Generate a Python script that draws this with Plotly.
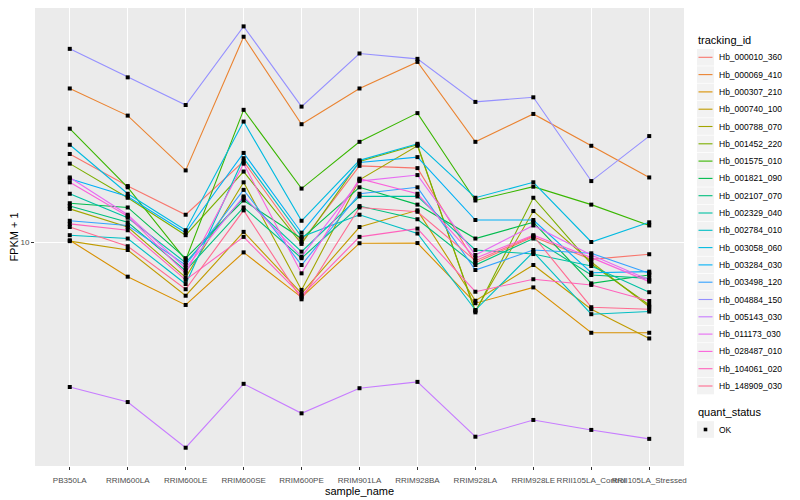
import plotly.graph_objects as go

samples = ["PB350LA", "RRIM600LA", "RRIM600LE", "RRIM600SE", "RRIM600PE", "RRIM901LA",
           "RRIM928BA", "RRIM928LA", "RRIM928LE", "RRII105LA_Control", "RRII105LA_Stressed"]

Hb_000010_360 = [16.6, 13.8, 11.7, 15.9, 10.0, 15.5, 15.3, 8.88, 10.3, 9.05, 9.32]
Hb_000069_410 = [24.2, 20.7, 15.1, 32.6, 19.7, 24.2, 28.2, 17.8, 20.9, 17.4, 14.5]
Hb_000307_210 = [10.1, 8.19, 6.96, 9.42, 7.27, 9.93, 9.94, 7.03, 7.70, 5.93, 5.93]
Hb_000740_100 = [10.05, 9.55, 7.34, 10.6, 7.44, 10.9, 12.0, 7.13, 8.76, 6.79, 5.74]
Hb_000788_070 = [12.1, 10.9, 8.16, 14.1, 7.59, 14.3, 17.4, 6.72, 11.95, 8.91, 6.89]
Hb_001452_220 = [15.7, 12.9, 10.4, 15.0, 9.89, 15.9, 17.5, 6.67, 12.9, 8.81, 6.96]
Hb_001575_010 = [19.2, 13.7, 9.02, 21.4, 13.6, 17.8, 21.0, 12.7, 13.75, 12.4, 11.0]
Hb_001821_090 = [12.5, 12.2, 9.11, 12.7, 10.2, 13.7, 12.4, 10.2, 11.2, 7.88, 8.27]
Hb_002107_070 = [12.3, 11.2, 8.48, 12.2, 9.11, 12.3, 11.4, 8.76, 10.2, 8.27, 8.11]
Hb_002329_040 = [13.2, 11.5, 8.88, 12.9, 9.46, 13.0, 13.0, 9.55, 9.33, 8.71, 7.49]
Hb_002784_010 = [10.4, 10.2, 7.85, 16.2, 10.3, 11.7, 10.5, 6.76, 9.44, 6.60, 6.70]
Hb_003058_060 = [17.5, 13.2, 10.7, 20.0, 11.3, 16.0, 17.6, 12.9, 14.1, 10.0, 11.2]
Hb_003284_030 = [14.4, 13.0, 10.55, 16.7, 10.55, 15.8, 16.3, 11.35, 11.35, 8.38, 8.43]
Hb_003498_120 = [11.3, 11.0, 8.76, 13.5, 8.76, 13.2, 13.7, 8.51, 9.55, 9.37, 8.35]
Hb_004884_150 = [30.4, 25.8, 22.0, 34.6, 21.8, 29.6, 28.7, 22.4, 23.0, 14.2, 18.4]
Hb_005143_030 = [4.34, 3.98, 3.06, 4.42, 3.73, 4.31, 4.47, 3.26, 3.59, 3.39, 3.22]
Hb_011173_030 = [14.5, 11.7, 8.60, 13.0, 9.19, 14.2, 14.7, 9.28, 11.0, 9.28, 8.04]
Hb_028487_010 = [14.1, 11.6, 8.35, 15.7, 8.35, 14.4, 13.2, 9.11, 10.4, 9.14, 7.96]
Hb_104061_020 = [11.1, 10.7, 8.04, 10.3, 7.34, 10.3, 10.8, 7.51, 8.07, 7.81, 7.12]
Hb_148909_030 = [10.9, 9.76, 7.62, 12.0, 7.19, 12.2, 11.9, 8.98, 10.35, 6.87, 6.79]

tracking_ids = ["Hb_000010_360", "Hb_000069_410", "Hb_000307_210", "Hb_000740_100", "Hb_000788_070",
                "Hb_001452_220", "Hb_001575_010", "Hb_001821_090", "Hb_002107_070", "Hb_002329_040",
                "Hb_002784_010", "Hb_003058_060", "Hb_003284_030", "Hb_003498_120", "Hb_004884_150",
                "Hb_005143_030", "Hb_011173_030", "Hb_028487_010", "Hb_104061_020", "Hb_148909_030"]
series = [Hb_000010_360, Hb_000069_410, Hb_000307_210, Hb_000740_100, Hb_000788_070,
          Hb_001452_220, Hb_001575_010, Hb_001821_090, Hb_002107_070, Hb_002329_040,
          Hb_002784_010, Hb_003058_060, Hb_003284_030, Hb_003498_120, Hb_004884_150,
          Hb_005143_030, Hb_011173_030, Hb_028487_010, Hb_104061_020, Hb_148909_030]
quant_status = ["OK"]

colors = ["#F8766D", "#EA8331", "#D89000", "#C09B00", "#A3A500", "#7CAE00", "#39B600", "#00BB4E",
          "#00BF7D", "#00C1A3", "#00BFC4", "#00BAE0", "#00B0F6", "#35A2FF", "#9590FF", "#C77CFF",
          "#E76BF3", "#FA62DB", "#FF62BC", "#FF6C91"]

FONT = "Liberation Sans, Arial, sans-serif"

# page layout (screen pixels; page body has an 8px offset)
OFF = 8
ML, MR, MT, MB = 35 - OFF, 800 - 684 + OFF, 0, 500 - 466 + OFF
PW, PH = 800 - ML - MR, 500 - MT - MB


def px(sx):
    return (sx - OFF - ML) / PW


def py(sy):
    return (500 - MB + OFF - sy) / PH


fig = go.Figure()
for name, vals, col in zip(tracking_ids, series, colors):
    fig.add_trace(go.Scatter(x=samples, y=vals, mode="lines", name=name, showlegend=False,
                             line=dict(color=col, width=1.1)))

all_x, all_y = [], []
for vals in series:
    all_x += samples
    all_y += vals
fig.add_trace(go.Scatter(x=all_x, y=all_y, mode="markers", name=quant_status[0], showlegend=False,
                         marker=dict(symbol="square", size=4, color="black")))

# manual ggplot-style legends
shapes, annots = [], []
annots.append(dict(text="tracking_id", x=px(696), y=py(40), xref="paper", yref="paper",
                   xanchor="left", yanchor="middle", showarrow=False, font=dict(size=11)))
for i, (name, col) in enumerate(zip(tracking_ids, colors)):
    cy = 57.3 + i * 17.3
    shapes.append(dict(type="rect", xref="paper", yref="paper", x0=px(697), x1=px(714),
                       y0=py(cy - 8.3), y1=py(cy + 8.3), fillcolor="#F2F2F2", line=dict(width=0),
                       layer="below"))
    shapes.append(dict(type="line", xref="paper", yref="paper", x0=px(698.5), x1=px(712.5),
                       y0=py(cy), y1=py(cy), line=dict(color=col, width=1.1)))
    annots.append(dict(text=name, x=px(716.5), y=py(cy), xref="paper", yref="paper",
                       xanchor="left", yanchor="middle", showarrow=False, font=dict(size=8.5)))
annots.append(dict(text="quant_status", x=px(696), y=py(412), xref="paper", yref="paper",
                   xanchor="left", yanchor="middle", showarrow=False, font=dict(size=11)))
shapes.append(dict(type="rect", xref="paper", yref="paper", x0=px(697), x1=px(714),
                   y0=py(429.5 - 8.3), y1=py(429.5 + 8.3), fillcolor="#F2F2F2", line=dict(width=0),
                   layer="below"))
shapes.append(dict(type="rect", xref="paper", yref="paper", x0=px(703.7), x1=px(707.3),
                   y0=py(427.7), y1=py(431.3), fillcolor="black", line=dict(width=0)))
annots.append(dict(text=quant_status[0], x=px(716.5), y=py(429.5), xref="paper", yref="paper",
                   xanchor="left", yanchor="middle", showarrow=False, font=dict(size=8.5)))

fig.update_layout(
    width=800, height=500,
    margin=dict(l=ML, r=MR, t=MT, b=MB, autoexpand=False),
    paper_bgcolor="white", plot_bgcolor="#EBEBEB",
    font=dict(family=FONT, size=9, color="black"),
    showlegend=False, shapes=shapes, annotations=annots,
)
fig.update_xaxes(type="category", categoryorder="array", categoryarray=samples,
                 range=[-0.6, 10.6], showgrid=True, gridcolor="white", gridwidth=1.1,
                 zeroline=False, ticks="outside", ticklen=3, tickcolor="#333333",
                 tickangle=0, automargin=False, ticklabelstandoff=3,
                 tickfont=dict(size=8, color="#4D4D4D"),
                 title=dict(text="sample_name", font=dict(size=11), standoff=0))
fig.update_yaxes(type="log", range=[0.44, 1 + (242 - 8) / 400], tickvals=[10], ticktext=["10"],
                 showgrid=True, gridcolor="white", gridwidth=1.1, zeroline=False,
                 ticks="outside", ticklen=3, tickcolor="#333333", automargin=False,
                 tickfont=dict(size=8, color="#4D4D4D"),
                 title=dict(text="FPKM + 1", font=dict(size=11), standoff=2))

fig.write_html("out.html")
